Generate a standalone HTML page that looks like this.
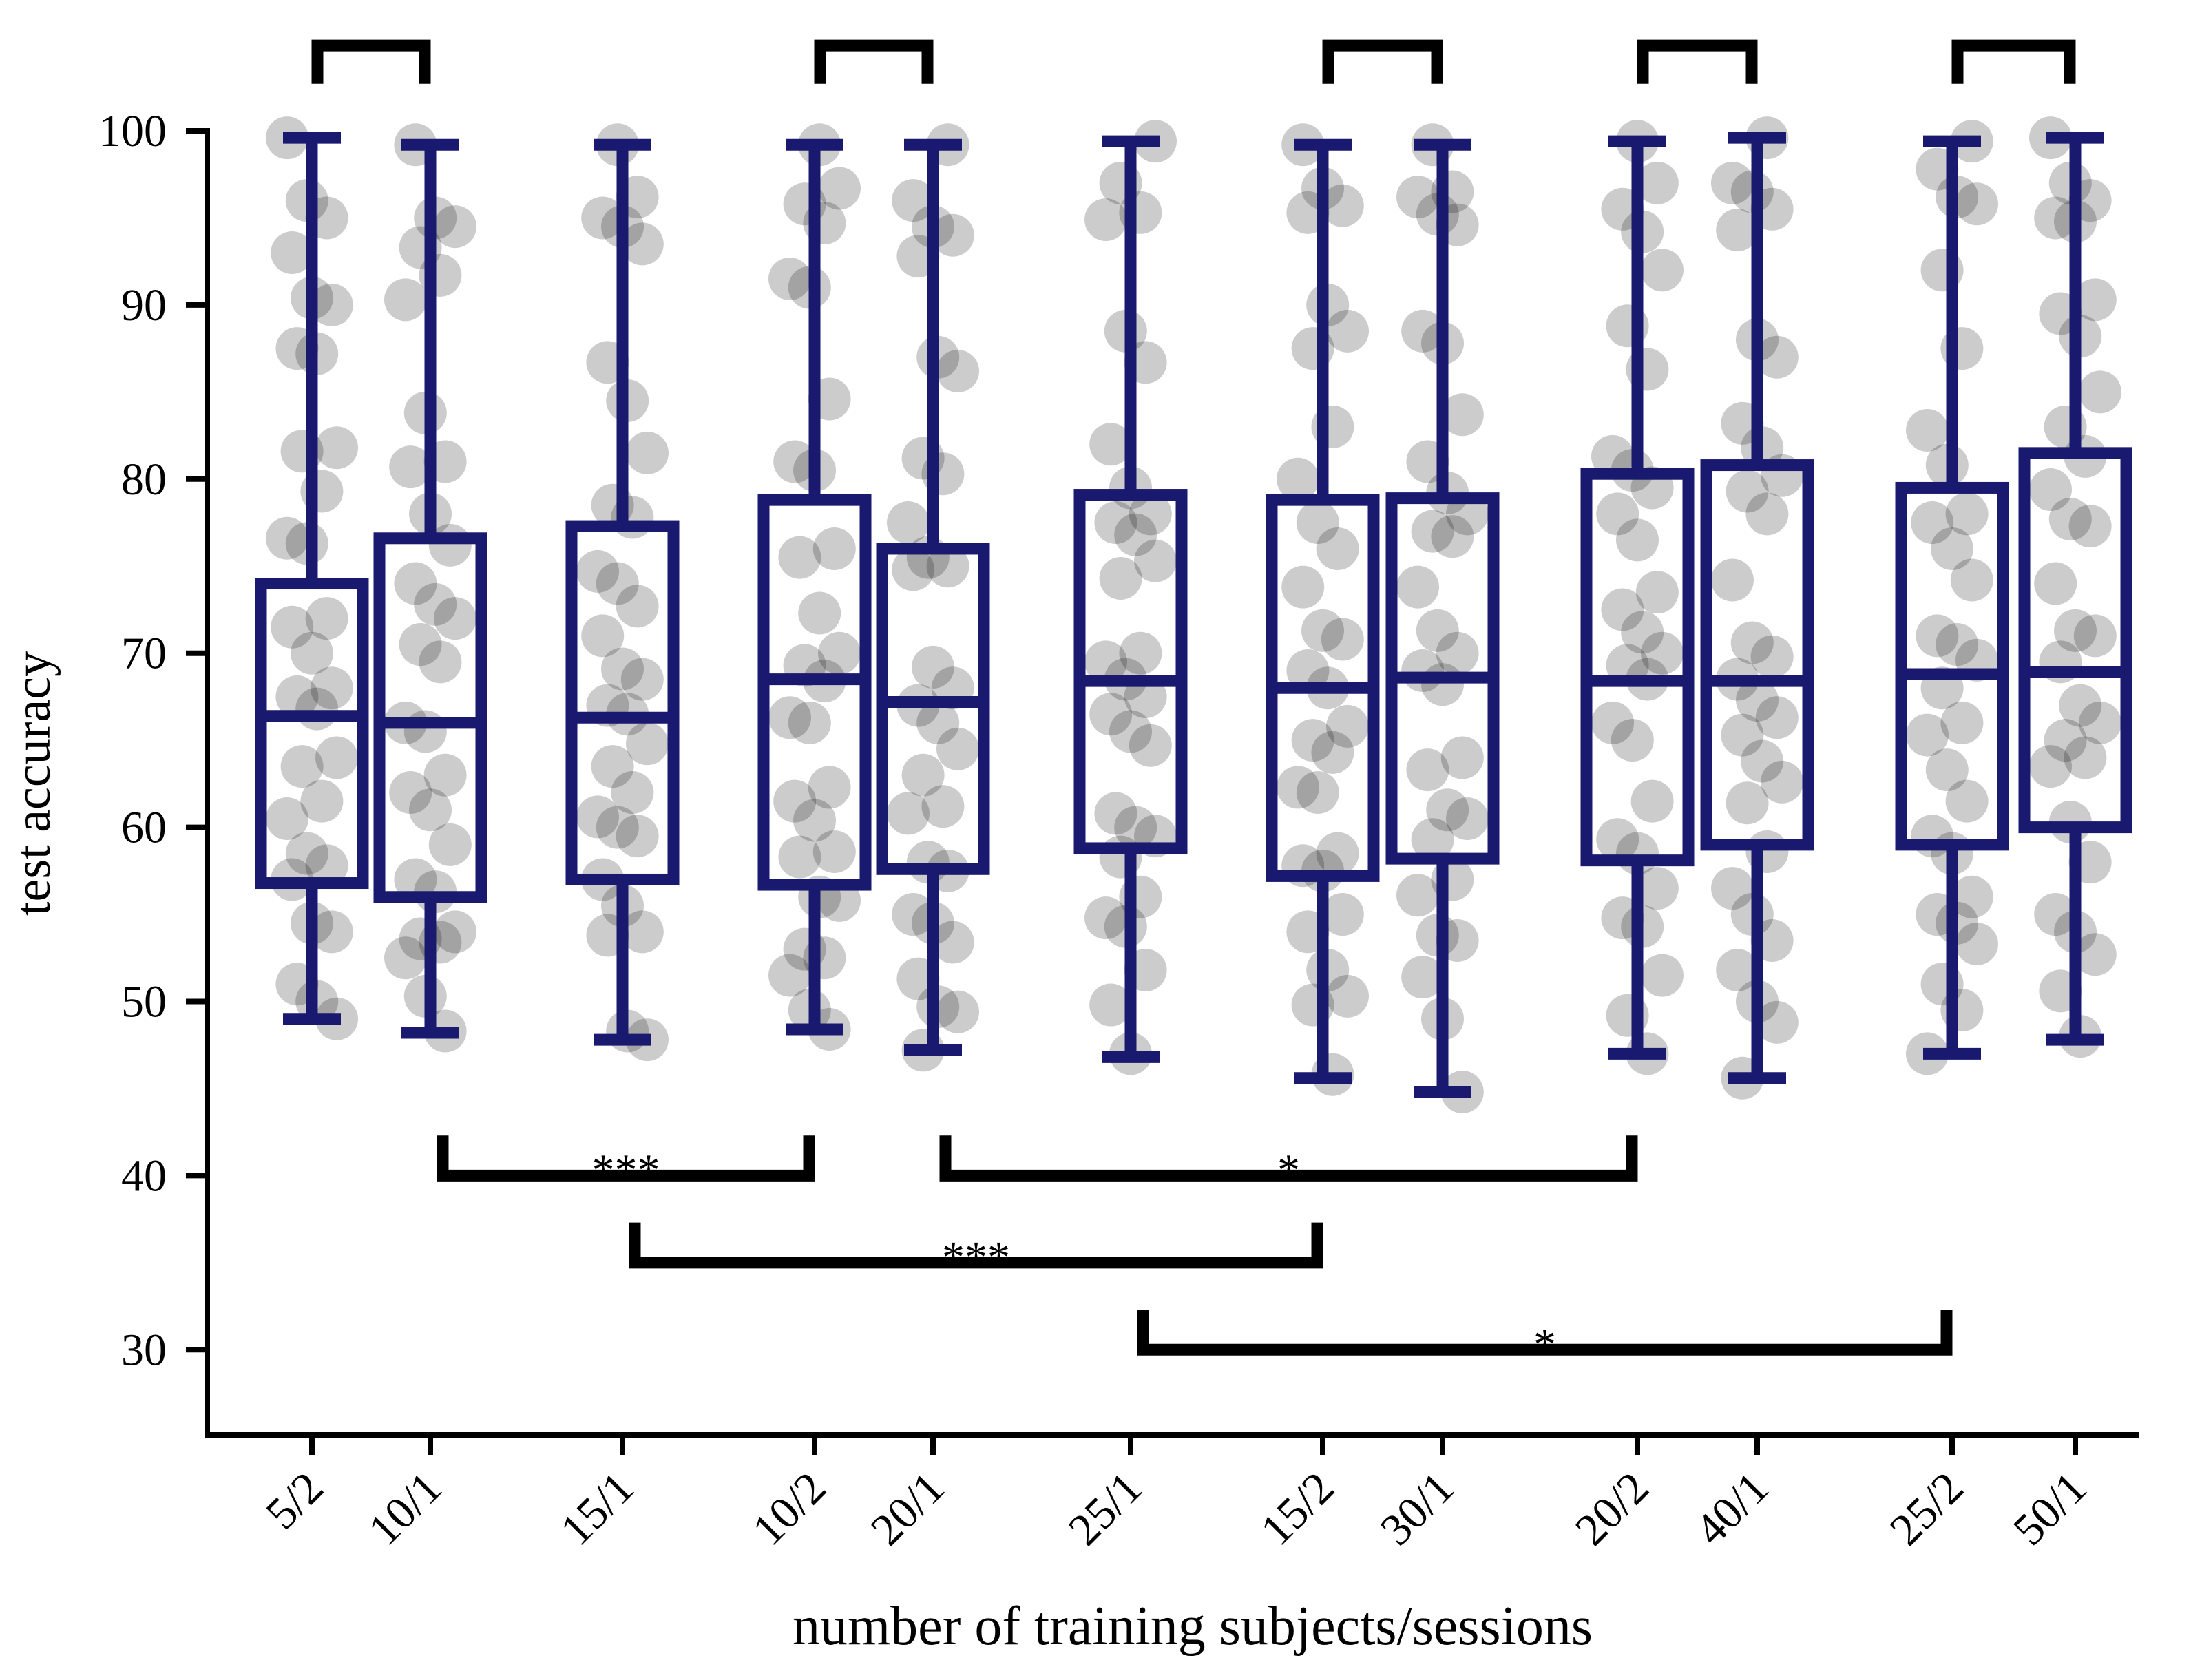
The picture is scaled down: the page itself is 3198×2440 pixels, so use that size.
<!DOCTYPE html>
<html><head><meta charset="utf-8"><style>
html,body{margin:0;padding:0;background:#fff;}
svg{display:block;font-family:"Liberation Serif",serif;}
</style></head><body>
<svg id="chart" width="3198" height="2440" viewBox="0 0 3198 2440" xmlns="http://www.w3.org/2000/svg"></svg>
<script>
const categories = ["5/2","10/1","15/1","10/2","20/1","25/1","15/2","30/1","20/2","40/1","25/2","50/1"];
const tickPos = [453,625,904,1183,1355,1642,1921,2095,2378,2552,2835,3014];
const whiskerHigh = [99.6,99.2,99.2,99.2,99.2,99.4,99.2,99.2,99.4,99.6,99.4,99.6];
const q3Values = [74,76.6,77.3,78.8,76,79.1,78.8,78.9,80.3,80.8,79.5,81.5];
const medianValues = [66.4,66,66.3,68.5,67.2,68.4,68,68.6,68.4,68.4,68.8,68.9];
const q1Values = [56.8,56,57,56.7,57.6,58.8,57.2,58.2,58.1,59,59,60];
const whiskerLow = [49,48.2,47.8,48.4,47.2,46.8,45.6,44.8,47,45.6,47,47.8];
const points = [
[99.6,96,95,93,90.4,90,87.5,87.2,81.8,81.6,79.3,76.6,76.3,72,71.5,70,68,67.5,66.8,64,63.5,61.5,60.5,58.5,57.8,57,54.5,54,51,50,49],
[99.2,95,94.5,93.3,91.7,90.3,83.8,81,80.7,78,76.2,74,72.8,72,70.5,69.5,66,65.5,63,62,61,59,57,56.3,54,53.6,53.4,52.5,50.3,48.3],
[99.2,96.2,95,94.5,93.5,86.7,84.5,81.5,78.5,77.8,74.7,74,72.7,71,69.1,68.5,67,66.5,64.8,63.5,62,60.6,60,59.5,57,55.5,54,53.8,48.3,47.8],
[99.2,96.7,95.8,94.7,91.5,91,84.6,81,80.5,76,75.5,72.3,70,69.3,68.4,66.3,66,62.3,61.5,60.4,58.6,58.3,56,55.8,53,52.5,51.5,49.5,48.4],
[99.2,96,94.5,94,92.8,87,86.2,81.2,80.3,77.5,75.5,75,74.8,69.2,68,67,66,64.5,63,61.2,60.8,58,57.5,55,54.5,53.4,51.3,49.7,49.4,47.2],
[99.4,97,95.3,94.9,88.5,86.7,82,79.5,78,77.5,76.8,75.3,74.3,70,69.5,68.5,67.5,66.5,65.5,64.7,60.8,60,59.5,58.3,56,54.8,54.3,51.8,49.8,47],
[99.2,96.7,95.7,95.3,90,88.5,87.5,83,80,77.5,76,73.8,71.3,70.8,69,68,65.8,65,64.3,62.3,62,58.5,57.8,57.5,55,54,51.8,50.3,49.8,45.8],
[99.2,96.5,96.2,95.2,94.6,88.5,87.8,83.7,81,79.2,78,77,76.7,73.8,71.3,70,69,68.2,64,63.3,61,60.5,59.3,57,56.1,53.8,53.5,51.4,49,44.8],
[99.4,97,95.5,94.2,92,88.8,86.3,81.3,80.5,79.5,78,76.5,73.5,72.5,71.2,70,69.3,68.5,66,65,61.5,59.3,58.5,56.5,54.8,54.3,51.5,49.2,47],
[99.6,97,96.5,95.5,94.3,88,87,83.2,81.8,80.2,79.3,78,74.2,70.6,69.8,68.5,67.3,66.3,65.3,63.8,62.6,61.4,58.6,56.5,55,53.5,51.8,50,48.8,45.6],
[99.4,97.8,96.2,95.8,92,87.5,82.8,80.8,78,77.5,76,74.2,71,70.5,69.6,68,66,65.3,63.3,61.5,59.5,58.5,56,55,54.5,53.3,51,49.5,47],
[99.6,97,96,95,94.8,90.3,89.5,88.2,85,83,81.3,79.4,77.7,77.3,74,71.3,71,69.5,67,66,65,64,63.5,60.3,58,55,54,52.7,50.6,48]
];
const yTicks = [30,40,50,60,70,80,90,100];
const topPairs = [[0,1],[3,4],[6,7],[8,9],[10,11]];
const bottomPairs = [[1,3,40,"***"],[4,8,40,"*"],[2,6,35,"***"],[5,10,30,"*"]];

const svg = document.getElementById('chart');
const NS = "http://www.w3.org/2000/svg";
const Y100 = 190, PER = 25.29;
function y(v){ return Y100 + (100 - v) * PER; }
function x(i){ return tickPos[i]; }
function mk(tag, attrs, parent){
  const e = document.createElementNS(NS, tag);
  for (const k in attrs) e.setAttribute(k, attrs[k]);
  (parent || svg).appendChild(e);
  return e;
}
const BLUE = "#191970";
const gp = mk('g', {});


points.forEach((arr, i) => {
  arr.forEach((v, j) => {
    const off = (((j * 37 + i * 13) % 11) - 5) / 5 * 36;
    const c = mk('circle', {cx: x(i) + off, cy: y(v), r: 31, fill: "rgba(0,0,0,0.2)"}, gp);
    
    
  });
});
categories.forEach((cat, i) => {
  const g = mk('g', {});
  
  
  const cx = x(i), hw = 74, cw = 42, sw = 17;
  mk('line', {x1: cx, x2: cx, y1: y(whiskerHigh[i]), y2: y(q3Values[i]), stroke: BLUE, 'stroke-width': sw}, g);
  mk('line', {x1: cx, x2: cx, y1: y(q1Values[i]), y2: y(whiskerLow[i]), stroke: BLUE, 'stroke-width': sw}, g);
  mk('line', {x1: cx - cw, x2: cx + cw, y1: y(whiskerHigh[i]), y2: y(whiskerHigh[i]), stroke: BLUE, 'stroke-width': sw}, g);
  mk('line', {x1: cx - cw, x2: cx + cw, y1: y(whiskerLow[i]), y2: y(whiskerLow[i]), stroke: BLUE, 'stroke-width': sw}, g);
  mk('rect', {x: cx - hw, y: y(q3Values[i]), width: 2 * hw, height: y(q1Values[i]) - y(q3Values[i]), fill: "none", stroke: BLUE, 'stroke-width': sw}, g);
  mk('line', {x1: cx - hw, x2: cx + hw, y1: y(medianValues[i]), y2: y(medianValues[i]), stroke: BLUE, 'stroke-width': sw}, g);
});
topPairs.forEach(p => {
  const a = x(p[0]) + 8, b = x(p[1]) - 8;
  const pl = mk('polyline', {points: `${a},${y(102.7)} ${a},${y(104.9)} ${b},${y(104.9)} ${b},${y(102.7)}`, fill: "none", stroke: "#000", 'stroke-width': 17});
  
  
});
bottomPairs.forEach(p => {
  const a = x(p[0]) + 18, b = x(p[1]) - 8, lv = p[2];
  const pl = mk('polyline', {points: `${a},${y(lv + 2.3)} ${a},${y(lv)} ${b},${y(lv)} ${b},${y(lv + 2.3)}`, fill: "none", stroke: "#000", 'stroke-width': 17});
  
  
  const t = mk('text', {x: (a + b) / 2, y: y(lv) + 14, 'text-anchor': 'middle', 'font-size': 66, fill: "#000"});
  t.textContent = p[3];
  
  
});
const ax = mk('g', {});


mk('line', {x1: 301, x2: 301, y1: y(100) - 4, y2: 2088, stroke: "#000", 'stroke-width': 8}, ax);
mk('line', {x1: 297, x2: 3106, y1: 2084, y2: 2084, stroke: "#000", 'stroke-width': 8}, ax);
yTicks.forEach(v => {
  mk('line', {x1: 270, x2: 301, y1: y(v), y2: y(v), stroke: "#000", 'stroke-width': 8}, ax);
  const t = mk('text', {x: 242, y: y(v) + 22, 'text-anchor': 'end', 'font-size': 66, fill: "#000"}, ax);
  t.textContent = v;
  
  
});
categories.forEach((c, i) => {
  mk('line', {x1: x(i), x2: x(i), y1: 2084, y2: 2113, stroke: "#000", 'stroke-width': 8}, ax);
  const tx = x(i) + 20, ty = 2165;
  const t = mk('text', {x: tx, y: ty, 'text-anchor': 'end', 'font-size': 66, fill: "#000", transform: `rotate(-45 ${tx} ${ty})`}, ax);
  t.textContent = c;
  
  
});
const yl = mk('text', {x: 72, y: 1138, 'text-anchor': 'middle', 'font-size': 74, fill: "#000", transform: "rotate(-90 72 1138)"});
yl.textContent = "test accuracy";


const xl = mk('text', {x: 1732, y: 2388, 'text-anchor': 'middle', 'font-size': 80, fill: "#000"});
xl.textContent = "number of training subjects/sessions";


</script>
</body></html>
